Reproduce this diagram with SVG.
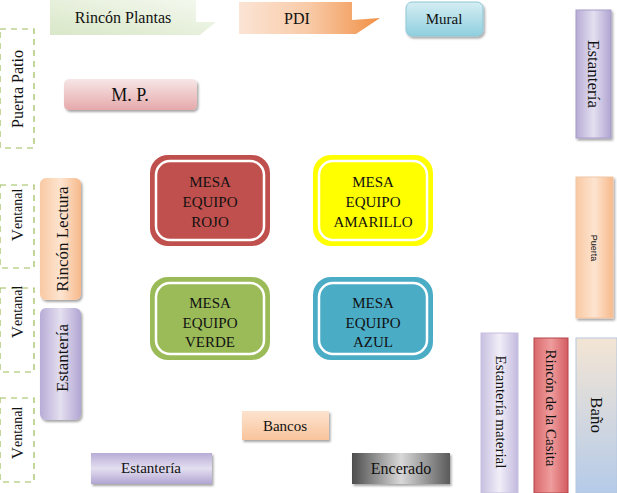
<svg xmlns="http://www.w3.org/2000/svg" width="617" height="493" viewBox="0 0 617 493" font-family="'Liberation Serif','Times New Roman',serif">
<style>
text{font-family:'Liberation Serif','Times New Roman',serif;fill:#111;text-anchor:middle;dominant-baseline:central}
.t14{font-size:14px}.t15{font-size:15px}.t16{font-size:16px}.t17{font-size:17px}.t18{font-size:18px}
.win{fill:none;stroke:#9bbb59;stroke-width:1.2;stroke-dasharray:6,5}
.mesa{stroke:#fff;stroke-width:2.5}
</style>
<defs>
<filter id="sh" x="-20%" y="-20%" width="140%" height="140%"><feDropShadow dx="1.5" dy="2" stdDeviation="1.2" flood-color="#000" flood-opacity="0.35"/></filter>
<linearGradient id="gGreen" x1="0" y1="1" x2="1" y2="0"><stop offset="0" stop-color="#d9e7c8"/><stop offset="1" stop-color="#f5f9f0"/></linearGradient>
<linearGradient id="gOrangeH" x1="0" y1="0" x2="1" y2="0"><stop offset="0" stop-color="#fbe3d3"/><stop offset="0.5" stop-color="#f8c7a2"/><stop offset="1" stop-color="#f08a3c"/></linearGradient>
<linearGradient id="gBlue" x1="0" y1="0" x2="0" y2="1"><stop offset="0" stop-color="#d5eef3"/><stop offset="1" stop-color="#8fcfdf"/></linearGradient>
<linearGradient id="gPurple" x1="0" y1="0" x2="1" y2="0"><stop offset="0" stop-color="#b7acd6"/><stop offset="0.5" stop-color="#e4dff0"/><stop offset="1" stop-color="#b1a5d2"/></linearGradient>
<linearGradient id="gPurpleV" x1="0" y1="0" x2="0" y2="1"><stop offset="0" stop-color="#b7acd6"/><stop offset="0.5" stop-color="#e4dff0"/><stop offset="1" stop-color="#b1a5d2"/></linearGradient>
<linearGradient id="gPink" x1="0" y1="0" x2="0" y2="1"><stop offset="0" stop-color="#f7e6e6"/><stop offset="1" stop-color="#e6a9ab"/></linearGradient>
<linearGradient id="gOrangeV" x1="0" y1="0" x2="1" y2="0"><stop offset="0" stop-color="#f9c9a3"/><stop offset="0.5" stop-color="#fde4d0"/><stop offset="1" stop-color="#f7b98b"/></linearGradient>
<linearGradient id="gBancos" x1="0" y1="0" x2="0" y2="1"><stop offset="0" stop-color="#fde3cf"/><stop offset="1" stop-color="#f9c49c"/></linearGradient>
<linearGradient id="gGray" x1="0" y1="0" x2="1" y2="0"><stop offset="0" stop-color="#4d4d4d"/><stop offset="0.5" stop-color="#d8d8d8"/><stop offset="1" stop-color="#5a5a5a"/></linearGradient>
<linearGradient id="gRed" x1="0" y1="0" x2="1" y2="0"><stop offset="0" stop-color="#d9686b"/><stop offset="0.5" stop-color="#ef9d9d"/><stop offset="1" stop-color="#d45c60"/></linearGradient>
<linearGradient id="gBano" x1="0" y1="0" x2="0" y2="1"><stop offset="0" stop-color="#f3e5d4"/><stop offset="1" stop-color="#b5cbe9"/></linearGradient>
<linearGradient id="gEstMat" x1="0" y1="0" x2="1" y2="0"><stop offset="0" stop-color="#c7bfe0"/><stop offset="0.5" stop-color="#f1eef8"/><stop offset="1" stop-color="#c3b9de"/></linearGradient>
</defs>

<g id="connectors"></g>

<g id="rincon-plantas">
<path d="M50,0 H196 V22 L216,22 L200,35 H50 Z" fill="url(#gGreen)"/>
<text class="t16" x="123" y="17">Rincón Plantas</text>
</g>

<g id="pdi">
<path d="M239,2 H352 V20 L380,18 L356,34 H239 Z" fill="url(#gOrangeH)" opacity="0.95"/>
<text class="t16" x="297" y="18">PDI</text>
</g>

<g id="mural">
<rect x="406" y="2" width="77" height="34" rx="6" fill="url(#gBlue)" stroke="#8fc6d6" filter="url(#sh)"/>
<text class="t15" x="444" y="19">Mural</text>
</g>

<g id="estanteria-derecha">
<rect x="576" y="10" width="35" height="128" fill="url(#gPurple)" stroke="#a79bc8" filter="url(#sh)"/>
<text class="t17" transform="translate(593,74) rotate(90)">Estantería</text>
</g>

<g id="puerta-patio">
<rect class="win" x="0" y="29" width="34" height="119"/>
<text class="t16" transform="translate(17,89) rotate(-90)">Puerta Patio</text>
</g>

<g id="mp">
<rect x="64" y="79" width="133" height="31" rx="5" fill="url(#gPink)" filter="url(#sh)"/>
<text class="t18" x="130" y="95">M. P.</text>
</g>

<g id="ventanal-1">
<rect class="win" x="0" y="185" width="34" height="83"/>
<text class="t14" transform="translate(17,215) rotate(-90)"><tspan font-size="17">V</tspan>entanal</text>
</g>
<g id="ventanal-2">
<rect class="win" x="0" y="288" width="34" height="84"/>
<text class="t14" transform="translate(17,312) rotate(-90)"><tspan font-size="17">V</tspan>entanal</text>
</g>
<g id="ventanal-3">
<rect class="win" x="0" y="398" width="34" height="84"/>
<text class="t14" transform="translate(17,433) rotate(-90)"><tspan font-size="17">V</tspan>entanal</text>
</g>

<g id="rincon-lectura">
<rect x="40" y="178" width="41" height="122" rx="6" fill="url(#gOrangeV)" filter="url(#sh)"/>
<text class="t17" transform="translate(62,239) rotate(-90)">Rincón Lectura</text>
</g>

<g id="estanteria-izquierda">
<rect x="40" y="308" width="41" height="112" rx="6" fill="url(#gPurple)" filter="url(#sh)"/>
<text class="t17" transform="translate(62,358) rotate(-90)">Estantería</text>
</g>

<g id="mesa-rojo">
<rect x="150" y="155" width="120" height="91" rx="18" fill="#c0504d"/>
<rect class="mesa" x="156" y="161" width="108" height="79" rx="14" fill="#c0504d"/>
<text class="t15" x="210" y="182">MESA</text>
<text class="t15" x="210" y="202">EQUIPO</text>
<text class="t15" x="210" y="222">ROJO</text>
</g>

<g id="mesa-amarillo">
<rect x="313" y="155" width="120" height="91" rx="18" fill="#ffff00"/>
<rect class="mesa" x="319" y="161" width="108" height="79" rx="14" fill="#ffff00"/>
<text class="t15" x="373" y="182">MESA</text>
<text class="t15" x="373" y="202">EQUIPO</text>
<text class="t15" x="373" y="222">AMARILLO</text>
</g>

<g id="mesa-verde">
<rect x="150" y="277" width="120" height="83" rx="18" fill="#9bbb59"/>
<rect class="mesa" x="156" y="283" width="108" height="71" rx="14" fill="#9bbb59"/>
<text class="t15" x="210" y="303">MESA</text>
<text class="t15" x="210" y="323">EQUIPO</text>
<text class="t15" x="210" y="342">VERDE</text>
</g>

<g id="mesa-azul">
<rect x="313" y="277" width="120" height="83" rx="18" fill="#4bacc6"/>
<rect class="mesa" x="319" y="283" width="108" height="71" rx="14" fill="#4bacc6"/>
<text class="t15" x="373" y="303">MESA</text>
<text class="t15" x="373" y="323">EQUIPO</text>
<text class="t15" x="373" y="342">AZUL</text>
</g>

<g id="puerta">
<rect x="576" y="177" width="37" height="141" fill="url(#gOrangeV)" stroke="#f2c5a4" filter="url(#sh)"/>
<text transform="translate(594,248) rotate(90)" style="font-family:'Liberation Sans',Arial,sans-serif;font-size:9px">Puerta</text>
</g>

<g id="estanteria-material">
<rect x="481" y="333" width="37" height="160" fill="url(#gEstMat)" stroke="#c8c0e0"/>
<text class="t15" transform="translate(501,412) rotate(90)">Estantería material</text>
</g>

<g id="rincon-casita">
<rect x="534" y="338" width="34" height="155" fill="url(#gRed)" stroke="#b2474a"/>
<text class="t15" transform="translate(551,408) rotate(90)">Rincón de la Casita</text>
</g>

<g id="bano">
<rect x="576" y="338" width="41" height="155" fill="url(#gBano)" stroke="#b5c7de"/>
<text class="t17" transform="translate(596,415) rotate(90)">Baño</text>
</g>

<g id="bancos">
<rect x="242" y="411" width="87" height="29" fill="url(#gBancos)" filter="url(#sh)"/>
<text class="t15" x="285" y="426">Bancos</text>
</g>

<g id="estanteria-abajo">
<rect x="91" y="453" width="121" height="31" fill="url(#gPurpleV)" filter="url(#sh)"/>
<text class="t15" x="151" y="468">Estantería</text>
</g>

<g id="encerado">
<rect x="352" y="453" width="98" height="31" fill="url(#gGray)" filter="url(#sh)"/>
<text class="t16" x="401" y="468">Encerado</text>
</g>
</svg>
